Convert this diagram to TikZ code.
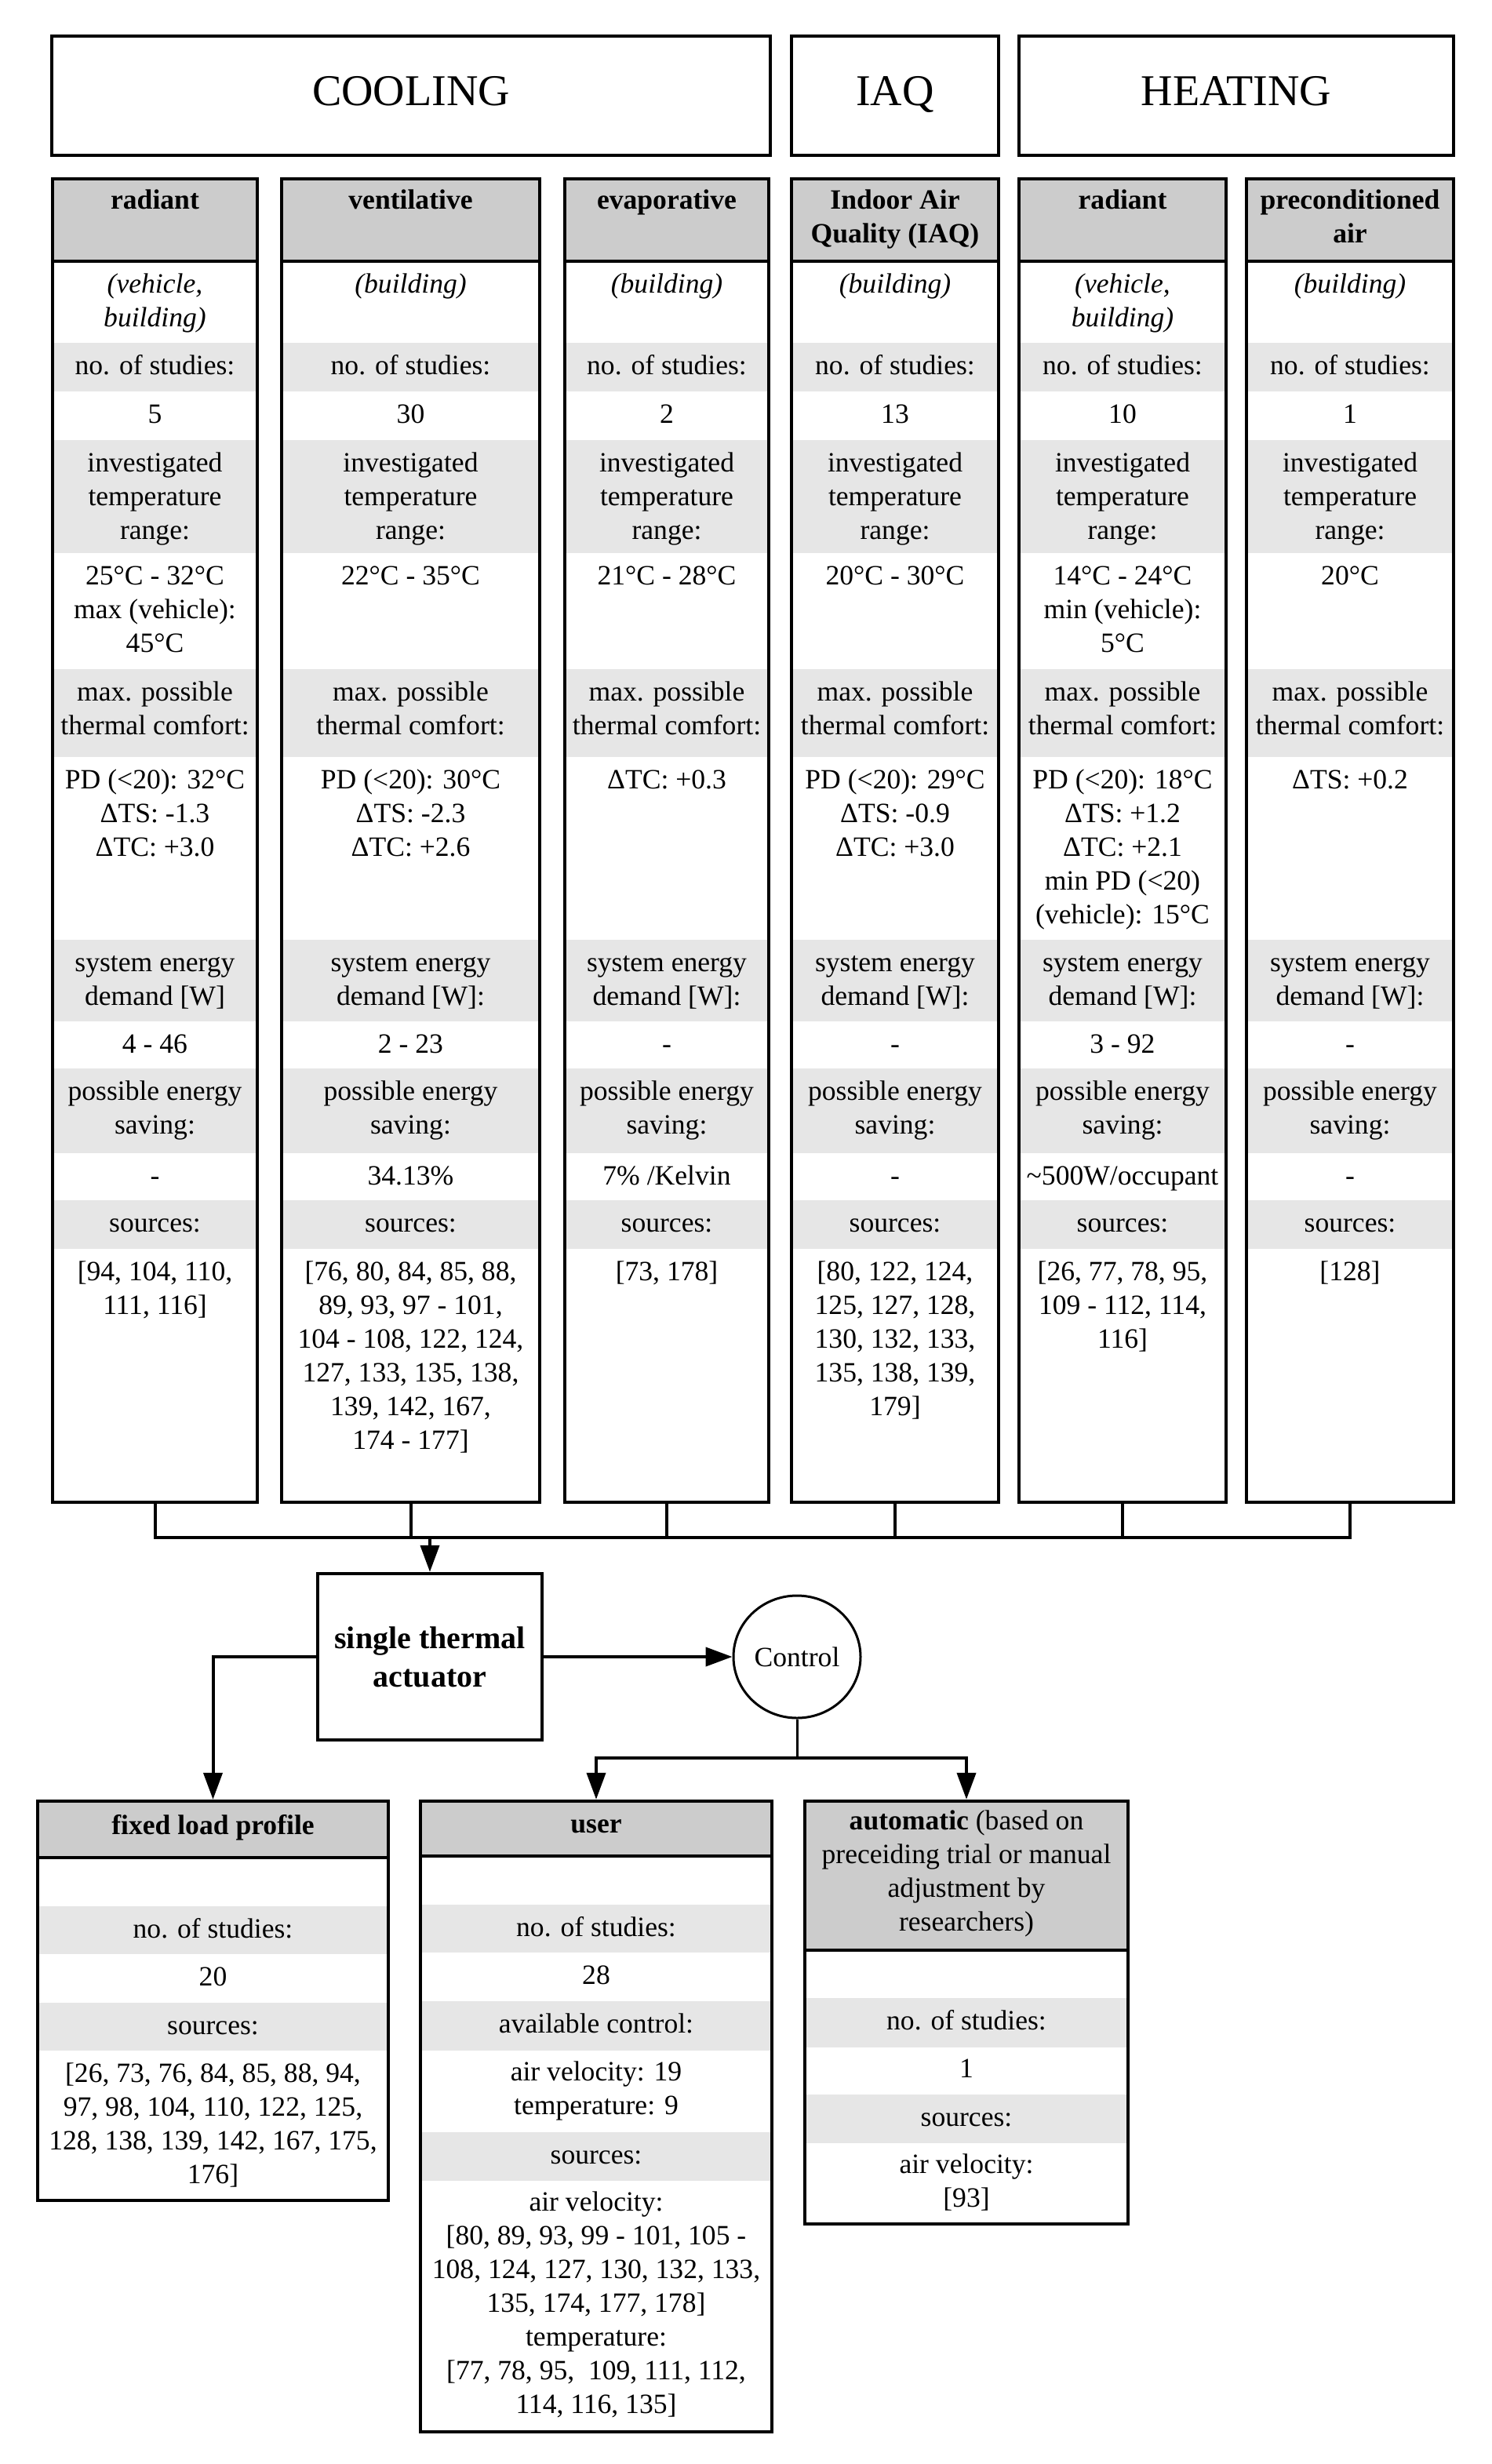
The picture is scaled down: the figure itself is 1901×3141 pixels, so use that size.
\documentclass[tikz,border=0pt]{standalone}
\usepackage{fontspec}
\setmainfont{Liberation Serif}
\usetikzlibrary{arrows.meta,shapes.geometric,fit}
\definecolor{hdrgray}{HTML}{CCCCCC}
\definecolor{rowgray}{HTML}{E6E6E6}
\newcommand\fs{\fontsize{17.8pt}{21.5pt}\selectfont}
\newcommand\fa{\fontsize{20pt}{24.5pt}\selectfont}
\newcommand\ft{\fontsize{28pt}{33pt}\selectfont}
\newcommand\mkcol[3]{%
  \fill[hdrgray] (#2,228) rectangle (#3,333);
  \foreach \ya/\yb in {437/499,561/705,853/965,1198/1302,1362/1470,1530/1592}{\fill[rowgray] (#2,\ya) rectangle (#3,\yb);}
  \draw[sep] (#2,333) -- (#3,333);
  \node[box, fit={(#2,228)(#3,1915)}] (#1) {};
}
\newcommand\cell[4]{\node[txt] (#1) at (#2,#3) {\strut #4};}
\begin{document}
\begin{tikzpicture}[x=0.5pt,y=-0.5pt,
  box/.style={draw, line width=2.2pt, inner sep=0pt},
  sep/.style={line width=2.2pt},
  txt/.style={anchor=north, align=center, inner sep=0pt, font=\fs},
  title/.style={anchor=base, inner sep=0pt, font=\ft},
  conn/.style={line width=2pt},
  thinconn/.style={line width=1.5pt},
  arr/.style={conn, -{Triangle[length=17pt,width=12pt]}}]
\useasboundingbox (0,0) rectangle (1901,3141);

% ---------- top titles ----------
\node[box, fit={(66,46)(982,198)}] (cool) {};
\node[title] (coolt) at (524,135) {COOLING};
\node[box, fit={(1009,46)(1273,198)}] (iaq) {};
\node[title] (iaqt) at (1141,135) {IAQ};
\node[box, fit={(1299,46)(1853,198)}] (heat) {};
\node[title] (heatt) at (1576,135) {HEATING};

% ---------- columns ----------
\mkcol{c1}{67}{328}
\mkcol{c2}{359}{688}
\mkcol{c3}{720}{980}
\mkcol{c4}{1009}{1273}
\mkcol{c5}{1299}{1563}
\mkcol{c6}{1589}{1853}

\foreach \i/\cx in {1/197.5,2/523.5,3/850,4/1141,5/1431,6/1721}{
  \node[txt] (c\i-nl) at (\cx,447) {\strut no. of studies:};
  \node[txt] (c\i-rl) at (\cx,571) {\strut investigated\\temperature\\range:};
  \node[txt] (c\i-ml) at (\cx,863) {\strut max. possible\\thermal comfort:};
  \node[txt] (c\i-pl) at (\cx,1372) {\strut possible energy\\saving:};
  \node[txt] (c\i-sl) at (\cx,1540) {\strut sources:};
}
\cell{c1-el}{197.5}{1208}{system energy\\demand [W]}
\foreach \i/\cx in {2/523.5,3/850,4/1141,5/1431,6/1721}{
  \node[txt] (c\i-el) at (\cx,1208) {\strut system energy\\demand [W]:};
}

% column 1
\cell{c1-h}{197.5}{236}{\textbf{radiant}}
\cell{c1-t}{197.5}{343}{\textit{(vehicle,}\\\textit{building)}}
\cell{c1-n}{197.5}{509}{5}
\cell{c1-r}{197.5}{715}{25°C - 32°C\\max (vehicle):\\45°C}
\cell{c1-m}{197.5}{975}{PD (<20): 32°C\\ΔTS: -1.3\\ΔTC: +3.0}
\cell{c1-e}{197.5}{1312}{4 - 46}
\cell{c1-p}{197.5}{1480}{-}
\cell{c1-s}{197.5}{1602}{[94, 104, 110,\\111, 116]}
% column 2
\cell{c2-h}{523.5}{236}{\textbf{ventilative}}
\cell{c2-t}{523.5}{343}{\textit{(building)}}
\cell{c2-n}{523.5}{509}{30}
\cell{c2-r}{523.5}{715}{22°C - 35°C}
\cell{c2-m}{523.5}{975}{PD (<20): 30°C\\ΔTS: -2.3\\ΔTC: +2.6}
\cell{c2-e}{523.5}{1312}{2 - 23}
\cell{c2-p}{523.5}{1480}{34.13\%}
\cell{c2-s}{523.5}{1602}{[76, 80, 84, 85, 88,\\89, 93, 97 - 101,\\104 - 108, 122, 124,\\127, 133, 135, 138,\\139, 142, 167,\\174 - 177]}
% column 3
\cell{c3-h}{850}{236}{\textbf{evaporative}}
\cell{c3-t}{850}{343}{\textit{(building)}}
\cell{c3-n}{850}{509}{2}
\cell{c3-r}{850}{715}{21°C - 28°C}
\cell{c3-m}{850}{975}{ΔTC: +0.3}
\cell{c3-e}{850}{1312}{-}
\cell{c3-p}{850}{1480}{7\% /Kelvin}
\cell{c3-s}{850}{1602}{[73, 178]}
% column 4
\cell{c4-h}{1141}{236}{\textbf{Indoor Air}\\\textbf{Quality (IAQ)}}
\cell{c4-t}{1141}{343}{\textit{(building)}}
\cell{c4-n}{1141}{509}{13}
\cell{c4-r}{1141}{715}{20°C - 30°C}
\cell{c4-m}{1141}{975}{PD (<20): 29°C\\ΔTS: -0.9\\ΔTC: +3.0}
\cell{c4-e}{1141}{1312}{-}
\cell{c4-p}{1141}{1480}{-}
\cell{c4-s}{1141}{1602}{[80, 122, 124,\\125, 127, 128,\\130, 132, 133,\\135, 138, 139,\\179]}
% column 5
\cell{c5-h}{1431}{236}{\textbf{radiant}}
\cell{c5-t}{1431}{343}{\textit{(vehicle,}\\\textit{building)}}
\cell{c5-n}{1431}{509}{10}
\cell{c5-r}{1431}{715}{14°C - 24°C\\min (vehicle):\\5°C}
\cell{c5-m}{1431}{975}{PD (<20): 18°C\\ΔTS: +1.2\\ΔTC: +2.1\\min PD (<20)\\(vehicle): 15°C}
\cell{c5-e}{1431}{1312}{3 - 92}
\cell{c5-p}{1431}{1480}{\textasciitilde500W/occupant}
\cell{c5-s}{1431}{1602}{[26, 77, 78, 95,\\109 - 112, 114,\\116]}
% column 6
\cell{c6-h}{1721}{236}{\textbf{preconditioned}\\\textbf{air}}
\cell{c6-t}{1721}{343}{\textit{(building)}}
\cell{c6-n}{1721}{509}{1}
\cell{c6-r}{1721}{715}{20°C}
\cell{c6-m}{1721}{975}{ΔTS: +0.2}
\cell{c6-e}{1721}{1312}{-}
\cell{c6-p}{1721}{1480}{-}
\cell{c6-s}{1721}{1602}{[128]}

% ---------- middle ----------
\node[box, fit={(405,2006)(691,2218)}] (act) {};
\node[inner sep=0pt, align=center, font=\fa] (actt) at (act.center) {\textbf{single thermal}\\\textbf{actuator}};
\node[draw, ellipse, line width=1.5pt, minimum width=81pt, minimum height=78pt, inner sep=0pt, font=\fs] (ctrl) at (1016,2112) {Control};

% ---------- bottom boxes ----------
% fixed load profile
\fill[hdrgray] (48,2296) rectangle (495,2368);
\fill[rowgray] (48,2430) rectangle (495,2491);
\fill[rowgray] (48,2553) rectangle (495,2614);
\draw[sep] (48,2368) -- (495,2368);
\node[box, fit={(48,2296)(495,2805)}] (fx) {};
\cell{fx-h}{271.5}{2308}{\textbf{fixed load profile}}
\cell{fx-nl}{271.5}{2440}{no. of studies:}
\cell{fx-n}{271.5}{2501}{20}
\cell{fx-sl}{271.5}{2563}{sources:}
\cell{fx-s}{271.5}{2624}{[26, 73, 76, 84, 85, 88, 94,\\97, 98, 104, 110, 122, 125,\\128, 138, 139, 142, 167, 175,\\176]}
% user
\fill[hdrgray] (536,2296) rectangle (984,2366);
\fill[rowgray] (536,2428) rectangle (984,2489);
\fill[rowgray] (536,2551) rectangle (984,2614);
\fill[rowgray] (536,2718) rectangle (984,2780);
\draw[sep] (536,2366) -- (984,2366);
\node[box, fit={(536,2296)(984,3100)}] (us) {};
\cell{us-h}{760}{2306}{\textbf{user}}
\cell{us-nl}{760}{2438}{no. of studies:}
\cell{us-n}{760}{2499}{28}
\cell{us-al}{760}{2561}{available control:}
\cell{us-a}{760}{2622}{air velocity: 19\\temperature: 9}
\cell{us-sl}{760}{2728}{sources:}
\cell{us-s}{760}{2788}{air velocity:\\{}[80, 89, 93, 99 - 101, 105 -\\108, 124, 127, 130, 132, 133,\\135, 174, 177, 178]\\temperature:\\{}[77, 78, 95,\ \ 109, 111, 112,\\114, 116, 135]}
% automatic
\fill[hdrgray] (1026,2296) rectangle (1438,2486);
\fill[rowgray] (1026,2547) rectangle (1438,2610);
\fill[rowgray] (1026,2670) rectangle (1438,2732);
\draw[sep] (1026,2486) -- (1438,2486);
\node[box, fit={(1026,2296)(1438,2835)}] (au) {};
\cell{au-h}{1232}{2302}{\textbf{automatic} (based on\\preceiding trial or manual\\adjustment by\\researchers)}
\cell{au-nl}{1232}{2557}{no. of studies:}
\cell{au-n}{1232}{2618}{1}
\cell{au-sl}{1232}{2680}{sources:}
\cell{au-s}{1232}{2740}{air velocity:\\{}[93]}

% ---------- connectors ----------
\coordinate (busy) at (0,1960);
\draw[conn] (c1.south) -- (c1.south |- busy) -- (c6.south |- busy) -- (c6.south);
\foreach \n in {c2,c3,c4,c5}{\draw[conn] (\n.south) -- (\n.south |- busy);}
\draw[arr] (act.north |- busy) -- (act.north);
\draw[arr] (act.east) -- (ctrl.west);
\draw[arr] (act.west) -| (fx.north);
\coordinate (split) at (1016,2241);
\draw[thinconn] (ctrl.south) -- (split);
\draw[arr] (split) -| (us.north);
\draw[arr] (split) -| (au.north);
\end{tikzpicture}
\end{document}
